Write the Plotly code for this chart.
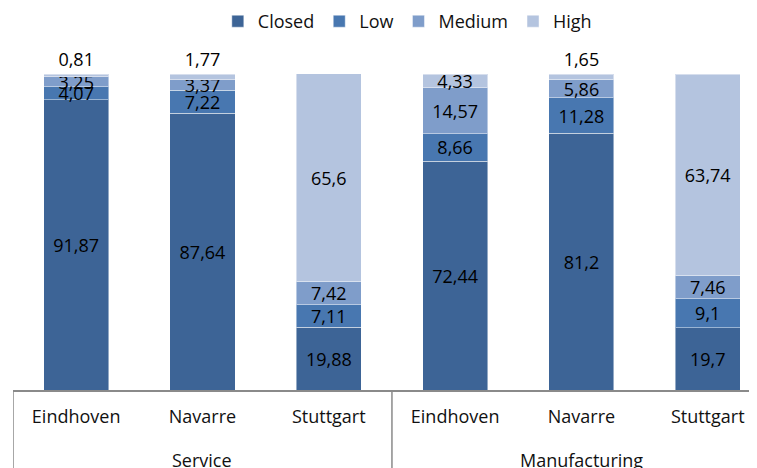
import plotly.graph_objects as go

groups = ["Service", "Manufacturing"]
group_centers = [1, 4]
sites = ["Eindhoven", "Navarre", "Stuttgart", "Eindhoven", "Navarre", "Stuttgart"]
xpos = [0, 1, 2, 3, 4, 5]

closed = [91.87, 87.64, 19.88, 72.44, 81.2, 19.7]
low = [4.07, 7.22, 7.11, 8.66, 11.28, 9.1]
medium = [3.25, 3.37, 7.42, 14.57, 5.86, 7.46]
high = [0.81, 1.77, 65.6, 4.33, 1.65, 63.74]

series = [
    ("Closed", closed, "#3d6496"),
    ("Low", low, "#4877b0"),
    ("Medium", medium, "#7f9dca"),
    ("High", high, "#b4c4df"),
]

FONT = "Open Sans"
LINE = "#8a8a8a"

def fmt(v):
    return f"{v:g}".replace(".", ",")

fig = go.Figure()
for name, vals, color in series:
    if name == "High":
        pos = ["outside" if v < 3 else "inside" for v in vals]
    else:
        pos = "inside"
    fig.add_trace(go.Bar(
        name=name,
        x=xpos,
        y=vals,
        text=[fmt(v) for v in vals],
        textposition=pos,
        insidetextanchor="middle",
        textangle=0,
        constraintext="none",
        cliponaxis=False,
        textfont=dict(family=FONT, size=18, color="black"),
        marker=dict(color=color, line=dict(color="rgba(255,255,255,0.45)", width=1)),
        width=0.515,
    ))

# page has an 8px body margin, so the figure is sized/offset to compensate
fig.update_layout(
    barmode="stack",
    width=749,
    height=460,
    margin=dict(l=5, r=0, t=32, b=78, autoexpand=False),
    paper_bgcolor="white",
    plot_bgcolor="white",
    font=dict(family=FONT, size=18, color="#111111"),
    legend=dict(
        orientation="h", x=0.53, xanchor="center", y=1.0, yanchor="bottom",
        font=dict(family=FONT, size=18, color="#111111"),
        traceorder="normal", itemwidth=30,
    ),
    showlegend=True,
)
fig.update_xaxes(
    range=[-0.5, 5.39],
    tickmode="array", tickvals=xpos, ticktext=sites,
    showline=True, linecolor=LINE, linewidth=1.5,
    ticks="", ticklabelstandoff=10,
    tickfont=dict(family=FONT, size=18, color="#111111"),
    showgrid=False, zeroline=False, automargin=False,
)
fig.update_yaxes(visible=False, range=[0, 110.76], showgrid=False, automargin=False)

for g, c in zip(groups, group_centers):
    fig.add_annotation(x=c, xref="x", y=-70 / 350, yref="paper", text=g,
                       showarrow=False, yanchor="middle",
                       font=dict(family=FONT, size=18, color="#111111"))

for xd in [-0.5, 2.5, 5.5]:
    fig.add_shape(type="line", xref="x", yref="paper", x0=xd, x1=xd,
                  y0=0, y1=-78 / 350, line=dict(color=LINE, width=1.5))

fig.write_html("out.html")
